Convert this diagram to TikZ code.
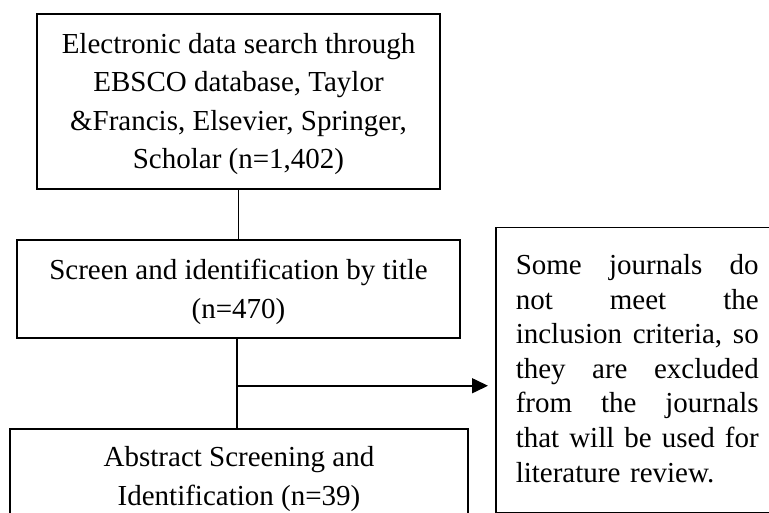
\documentclass[tikz,border=0pt]{standalone}
\usepackage{fontspec}
\setmainfont{Liberation Serif}
\usetikzlibrary{arrows.meta,calc}
\tikzset{
  box/.style={draw=black, line width=1.5pt, inner sep=0pt, align=center, font=\fontsize{29pt}{38.3pt}\selectfont},
  conn/.style={draw=black, line width=1.6pt},
  arr/.style={conn, -{Triangle[length=16pt, width=15pt]}}
}
\newcommand{\jline}[1]{\leavevmode\hbox to 243pt{#1}}
\begin{document}
\begin{tikzpicture}[x=1pt, y=-1pt]
\useasboundingbox (0,0) rectangle (769,513);
\clip (0,0) rectangle (769,513);
\fill[white] (0,0) rectangle (769,513);
\node[box, minimum width=403pt, minimum height=175pt] (search) at (238.5,101.5)
  {\rule{0pt}{25pt}Electronic data search through\\EBSCO database, Taylor\\\&Francis, Elsevier, Springer,\\Scholar (n=1,402)};
\node[box, minimum width=443pt, minimum height=98pt] (screen) at (238.5,289)
  {\rule{0pt}{26pt}Screen and identification by title\\(n=470)};
\node[box, minimum width=458pt, minimum height=100pt] (abstract) at (239,479)
  {Abstract Screening and\\Identification (n=39)};
\node[draw=black, line width=1.5pt, anchor=north west, inner xsep=20pt, inner ysep=0pt,
      minimum height=285pt, text width=243pt, align=left,
      font=\fontsize{29pt}{34.6pt}\selectfont] (excl) at (495,227)
  {\jline{Some\hfill journals\hfill do}\\
   \jline{not\hfill meet\hfill the}\\
   \jline{inclusion\hfill criteria,\hfill so}\\
   \jline{they\hfill are\hfill excluded}\\
   \jline{from\hfill the\hfill journals}\\
   \jline{that\hfill will\hfill be\hfill used\hfill for}\\
   literature review.\rule[-4pt]{0pt}{4pt}};
\coordinate (j) at ($(screen.south) + (-1.5,47)$);
\draw[conn] (search.south) -- (screen.north);
\draw[conn] ($(screen.south)+(-1.5,0)$) -- ($(screen.south |- abstract.north)+(-1.5,0)$);
\draw[arr, shorten >=7pt] (j) -- (j -| excl.west);
\end{tikzpicture}
\end{document}
